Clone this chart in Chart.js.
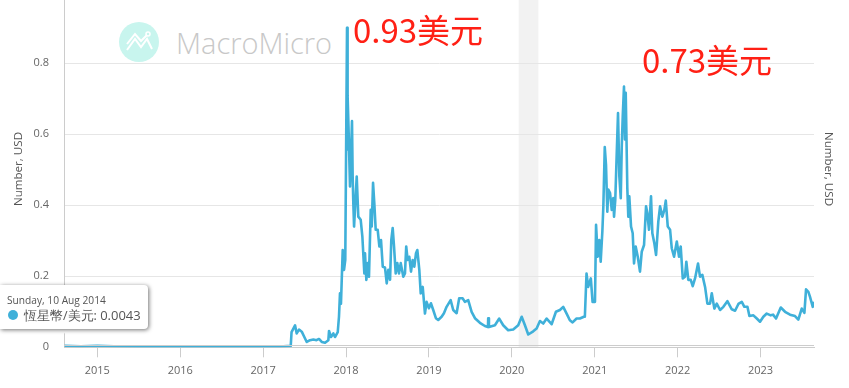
<!DOCTYPE html>
<html>
<head>
<meta charset="utf-8">
<title>恆星幣/美元</title>
<script src="https://cdn.jsdelivr.net/npm/chart.js@4"></script>
<style>
    html, body { margin: 0; padding: 0; background: #fff; }
    #wrap { position: relative; width: 849px; height: 388px; overflow: hidden; font-family: "Open Sans", sans-serif; }
    #chart { position: absolute; left: 0; top: 0; }
    #logo { position: absolute; left: 0; top: 0; }
    #brand { position: absolute; left: 176px; top: 21px; font: 300 29px/44px "Open Sans", sans-serif; color: #c8c8c8; }
    .note { position: absolute; font: 33px/44px "Noto Sans CJK TC", sans-serif; color: #ff2015; white-space: nowrap; }
    #tip { position: absolute; left: 0; top: 285px; width: 148px; height: 44px; background: #fff; border-radius: 0 4px 4px 0; box-shadow: 1px 1px 4px rgba(0,0,0,.55); }
    #tipCaret { position: absolute; left: 58px; top: 325px; width: 0; height: 0; border-left: 6px solid transparent; border-right: 6px solid transparent; border-top: 9px solid #fff; }
    #tipDate { position: absolute; left: 7px; top: 8px; font-size: 10.2px; line-height: 14px; color: #555; white-space: nowrap; }
    #tipDot { position: absolute; left: 8px; top: 25px; width: 10px; height: 10px; border-radius: 50%; background: #3fb0d9; }
    #tipText { position: absolute; left: 24px; top: 21px; font-size: 12.5px; line-height: 18px; color: #555; white-space: nowrap; }
    #tipText b { font-weight: normal; font-size: 13px; }
</style>
</head>
<body>
<div id="wrap">
    <svg id="logo" width="849" height="388">
        <circle cx="139" cy="42" r="20" fill="#c8f5ee"></circle>
        <polyline points="127,50 135,39 141,47 147,39 152,49" fill="none" stroke="#fff" stroke-width="2"></polyline>
        <polyline points="127,44 135,34 141,41 147,35" fill="none" stroke="#fff" stroke-width="2"></polyline>
        <circle cx="148" cy="34" r="2" fill="none" stroke="#fff" stroke-width="1.5"></circle>
    </svg>
    <div id="brand">MacroMicro</div>
    <canvas id="chart" width="849" height="388"></canvas>
    <div class="note" style="left:353px;top:7px">0.93美元</div>
    <div class="note" style="left:642px;top:37px">0.73美元</div>
    <div id="tipCaret"></div>
    <div id="tip">
        <div id="tipDate">Sunday, 10 Aug 2014</div>
        <div id="tipDot"></div>
        <div id="tipText">恆星幣/美元: <b>0.0043</b></div>
    </div>
</div>
<script>
const seriesName = '恆星幣/美元';
const axisTitle = 'Number, USD';
const tickYears = [2015, 2016, 2017, 2018, 2019, 2020, 2021, 2022, 2023];
const tickValues = [0, 0.2, 0.4, 0.6, 0.8];
const recession = [2020.083, 2020.32];

// Dates as decimal years
const years = [
    2014.605, 2014.8, 2015.0, 2015.2, 2015.5, 2016.0, 2016.5, 2017.0, 2017.2, 2017.333,
    2017.343, 2017.385, 2017.405, 2017.433, 2017.466, 2017.497, 2017.526, 2017.566, 2017.606, 2017.644,
    2017.674, 2017.707, 2017.747, 2017.787, 2017.795, 2017.819, 2017.847, 2017.867, 2017.9, 2017.915,
    2017.927, 2017.939, 2017.96, 2017.976, 2017.991, 2018.012, 2018.017, 2018.021, 2018.03, 2018.048,
    2018.072, 2018.08, 2018.088, 2018.097, 2018.129, 2018.148, 2018.177, 2018.197, 2018.221, 2018.229,
    2018.245, 2018.262, 2018.277, 2018.298, 2018.31, 2018.326, 2018.341, 2018.358, 2018.382, 2018.402,
    2018.422, 2018.443, 2018.47, 2018.491, 2018.51, 2018.531, 2018.546, 2018.563, 2018.579, 2018.599,
    2018.619, 2018.639, 2018.66, 2018.691, 2018.711, 2018.726, 2018.743, 2018.763, 2018.784, 2018.804,
    2018.824, 2018.844, 2018.86, 2018.884, 2018.901, 2018.925, 2018.952, 2018.972, 2019.0, 2019.024,
    2019.052, 2019.084, 2019.112, 2019.153, 2019.181, 2019.213, 2019.262, 2019.293, 2019.334, 2019.365,
    2019.406, 2019.434, 2019.474, 2019.515, 2019.555, 2019.615, 2019.675,
    2019.712, 2019.715, 2019.724, 2019.796, 2019.848, 2019.896,
    2019.956, 2020.017, 2020.077, 2020.119, 2020.158, 2020.198, 2020.258, 2020.299, 2020.339, 2020.379,
    2020.42, 2020.48, 2020.532, 2020.58, 2020.62, 2020.661, 2020.7, 2020.733, 2020.781, 2020.821,
    2020.869, 2020.881, 2020.901, 2020.921, 2020.953, 2020.974, 2021.003, 2021.016, 2021.036, 2021.055,
    2021.072, 2021.092, 2021.104, 2021.121, 2021.136, 2021.152, 2021.164, 2021.185, 2021.205, 2021.224,
    2021.233, 2021.248, 2021.265, 2021.281, 2021.297, 2021.314, 2021.326, 2021.338, 2021.353, 2021.365,
    2021.374, 2021.393, 2021.405, 2021.417, 2021.438, 2021.458, 2021.474, 2021.494, 2021.519, 2021.546,
    2021.567, 2021.595, 2021.619, 2021.634, 2021.655, 2021.679, 2021.695, 2021.719, 2021.74, 2021.767,
    2021.788, 2021.816, 2021.84, 2021.857, 2021.881, 2021.909, 2021.929, 2021.957, 2021.99, 2022.017,
    2022.037, 2022.062, 2022.089, 2022.105, 2022.129, 2022.158, 2022.182, 2022.21, 2022.246, 2022.27,
    2022.298, 2022.331, 2022.359, 2022.391, 2022.412, 2022.443, 2022.472, 2022.512, 2022.552, 2022.6,
    2022.653, 2022.693, 2022.733, 2022.774, 2022.805, 2022.842, 2022.866, 2022.914, 2022.955, 2022.994,
    2023.034, 2023.075, 2023.123, 2023.151, 2023.187, 2023.244, 2023.296, 2023.356, 2023.416, 2023.456,
    2023.497, 2023.529, 2023.549, 2023.577, 2023.597, 2023.63, 2023.645
];
const prices = [
    0.0043, 0.003, 0.0045, 0.003, 0.002, 0.002, 0.002, 0.002, 0.002, 0.004,
    0.043, 0.062, 0.039, 0.05, 0.044, 0.029, 0.015, 0.02, 0.022, 0.02,
    0.0235, 0.015, 0.013, 0.02, 0.046, 0.029, 0.039, 0.029, 0.043, 0.086,
    0.152, 0.123, 0.274, 0.218, 0.246, 0.9, 0.557, 0.708, 0.62, 0.453,
    0.637, 0.481, 0.406, 0.34, 0.481, 0.368, 0.359, 0.312, 0.208, 0.265,
    0.19, 0.237, 0.199, 0.387, 0.34, 0.463, 0.406, 0.331, 0.331, 0.284,
    0.302, 0.227, 0.225, 0.18, 0.218, 0.19, 0.302, 0.336, 0.284, 0.208,
    0.237, 0.208, 0.237, 0.199, 0.208, 0.284, 0.246, 0.255, 0.213, 0.246,
    0.227, 0.265, 0.274, 0.218, 0.152, 0.17, 0.095, 0.128, 0.11, 0.124,
    0.105, 0.082, 0.077, 0.086, 0.096, 0.114, 0.133, 0.105, 0.096, 0.138,
    0.138, 0.128, 0.133, 0.1, 0.082, 0.069, 0.06,
    0.057, 0.082, 0.057, 0.062, 0.081, 0.062,
    0.048, 0.05, 0.062, 0.086, 0.062, 0.036, 0.045, 0.053, 0.074, 0.067,
    0.081, 0.065, 0.1, 0.105, 0.114, 0.095, 0.076, 0.07, 0.081, 0.081,
    0.086, 0.086, 0.208, 0.17, 0.194, 0.128, 0.128, 0.345, 0.255, 0.302,
    0.241, 0.326, 0.397, 0.564, 0.514, 0.382, 0.444, 0.434, 0.387, 0.42,
    0.368, 0.416, 0.543, 0.66, 0.481, 0.42, 0.566, 0.651, 0.734, 0.585,
    0.717, 0.449, 0.368, 0.425, 0.34, 0.321, 0.236, 0.284, 0.255, 0.213,
    0.269, 0.288, 0.397, 0.378, 0.331, 0.425, 0.321, 0.293, 0.26, 0.354,
    0.397, 0.368, 0.387, 0.413, 0.34, 0.331, 0.279, 0.255, 0.298, 0.255,
    0.284, 0.194, 0.199, 0.241, 0.19, 0.19, 0.172, 0.194, 0.236, 0.199,
    0.204, 0.17, 0.123, 0.123, 0.152, 0.109, 0.123, 0.105, 0.114, 0.13,
    0.107, 0.103, 0.122, 0.128, 0.114, 0.114, 0.088, 0.09, 0.081, 0.072,
    0.086, 0.095, 0.09, 0.092, 0.081, 0.112, 0.1, 0.092, 0.088, 0.078,
    0.109, 0.097, 0.163, 0.156, 0.142, 0.114, 0.128
];

const axisColor = '#cccccc';
const gridColor = '#e6e6e6';
const labelColor = '#666666';
const titleColor = '#555555';
const labelFont = { family: '"Open Sans", sans-serif', size: 11 };

// Grey band behind the grid, second rule above the axis, both axis titles
const extrasPlugin = {
    id: 'extras',
    beforeDraw(chart) {
        const { ctx, chartArea, scales } = chart;
        const left = scales.x.getPixelForValue(recession[0]);
        const right = scales.x.getPixelForValue(recession[1]);
        ctx.save();
        ctx.fillStyle = '#f2f2f2';
        ctx.fillRect(left, chartArea.top, right - left, chartArea.bottom - chartArea.top);
        ctx.restore();
    },
    afterDraw(chart) {
        const { ctx, chartArea } = chart;
        ctx.save();
        ctx.strokeStyle = axisColor;
        ctx.lineWidth = 1;
        ctx.beginPath();
        ctx.moveTo(chartArea.left, 345.5);
        ctx.lineTo(chartArea.right, 345.5);
        ctx.stroke();

        ctx.fillStyle = titleColor;
        ctx.font = '11.6px "Open Sans", sans-serif';
        ctx.textAlign = 'center';
        ctx.textBaseline = 'middle';
        ctx.translate(19, 169);
        ctx.rotate(-Math.PI / 2);
        ctx.fillText(axisTitle, 0, 0);
        ctx.restore();

        ctx.save();
        ctx.fillStyle = titleColor;
        ctx.font = '11.6px "Open Sans", sans-serif';
        ctx.textAlign = 'center';
        ctx.textBaseline = 'middle';
        ctx.translate(828, 169);
        ctx.rotate(Math.PI / 2);
        ctx.fillText(axisTitle, 0, 0);
        ctx.restore();
    }
};

new Chart(document.getElementById('chart'), {
    type: 'line',
    data: {
        datasets: [{
            label: seriesName,
            data: years.map((year, i) => ({ x: year, y: prices[i] })),
            borderColor: '#3fb0d9',
            borderWidth: 2.6,
            borderJoinStyle: 'round',
            pointRadius: 0,
            tension: 0
        }]
    },
    options: {
        responsive: false,
        animation: false,
        layout: { padding: { left: 0, right: 35, top: 0, bottom: 0 } },
        plugins: { legend: { display: false }, tooltip: { enabled: false } },
        scales: {
            x: {
                type: 'linear',
                min: 2014.598,
                max: 2023.645,
                afterBuildTicks: scale => { scale.ticks = tickYears.map(value => ({ value })); },
                afterFit: scale => { scale.height = 40.7; },
                grid: { drawOnChartArea: false, drawTicks: true, tickLength: 10, tickColor: axisColor },
                border: { color: axisColor },
                ticks: {
                    autoSkip: false,
                    maxRotation: 0,
                    padding: 7,
                    color: labelColor,
                    font: labelFont,
                    callback: value => String(value)
                }
            },
            y: {
                type: 'linear',
                min: 0,
                max: 0.978,
                afterBuildTicks: scale => { scale.ticks = tickValues.map(value => ({ value })); },
                afterFit: scale => { scale.width = 64; scale.paddingTop = 0; scale.paddingBottom = 0; },
                grid: { color: gridColor, drawTicks: false },
                border: { color: axisColor },
                ticks: {
                    padding: 15,
                    color: labelColor,
                    font: labelFont,
                    callback: value => String(value)
                }
            }
        }
    },
    plugins: [extrasPlugin]
});
</script>
</body>
</html>
